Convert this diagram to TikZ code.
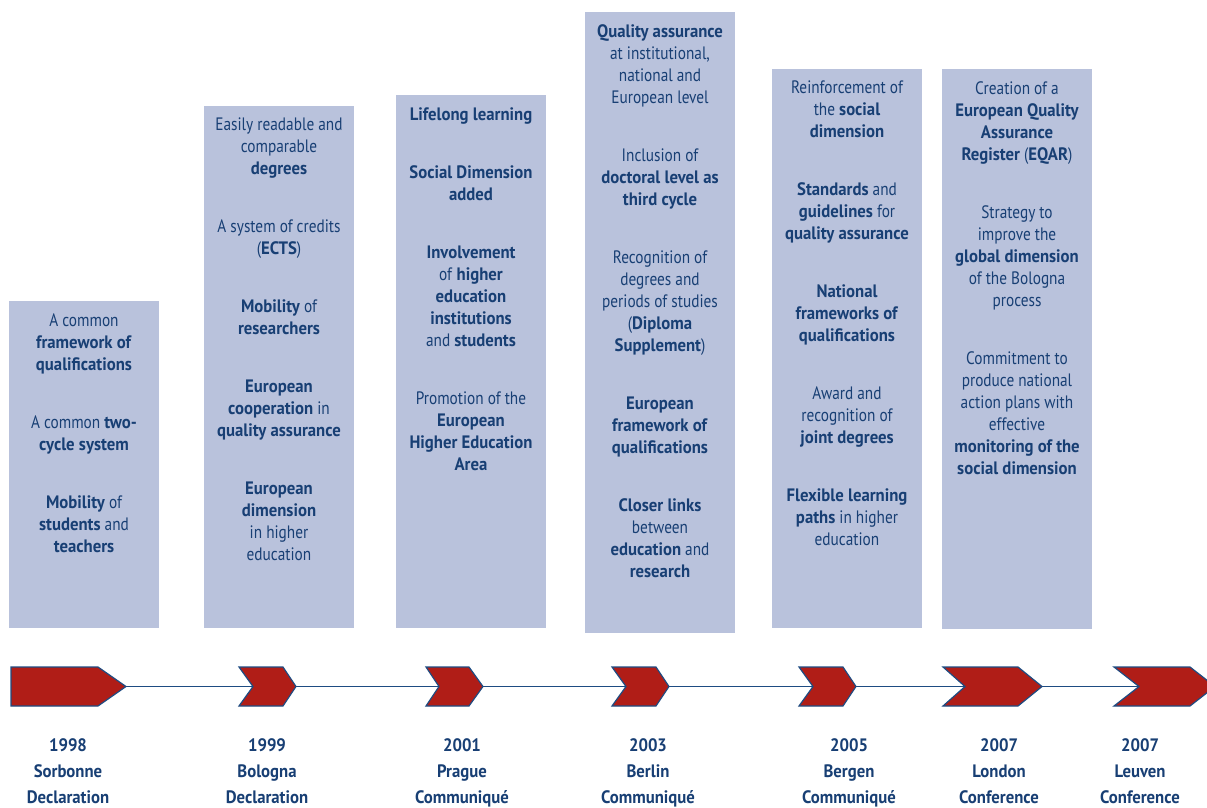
\documentclass[tikz,border=0pt]{standalone}
\usepackage{fontspec}
\setmainfont{PT Sans}[FakeStretch=0.85,BoldFeatures={FakeStretch=0.93}]
\usetikzlibrary{positioning}
\definecolor{boxblue}{RGB}{185,194,220}
\definecolor{textblue}{RGB}{24,63,116}
\definecolor{chevronred}{RGB}{176,29,23}
\definecolor{edgeblue}{RGB}{30,76,130}

\begin{document}
\begin{tikzpicture}[x=1pt,y=-1pt,
    goal/.style={anchor=north,inner sep=0pt,align=center,text=textblue,font=\fontsize{18}{22}\selectfont},
    event/.style={anchor=north,inner sep=0pt,align=center,text=textblue,font=\bfseries\fontsize{18}{26}\selectfont},
    chevron/.style={fill=chevronred,draw=edgeblue,line width=1.2pt,line join=miter}]
  \useasboundingbox (0,0) rectangle (1207,807);
  \clip (0,0) rectangle (1207,807);

  % columns
  \foreach \x/\t/\b in {9/301/628, 204/106/628, 396/95/628, 585/12/633, 772/69/628, 942/69/629}
    \fill[boxblue] (\x,\t) rectangle (\x+150,\b);

  \node[goal] (g1998) at (84,313) {A common\\ \textbf{framework of}\\ \textbf{qualifications}\\[36pt]
    A common \textbf{two-}\\ \textbf{cycle system}\\[36pt]
    \textbf{Mobility} of\\ \textbf{students} and\\ \textbf{teachers}};
  \node[goal] (g1999) at (279,118) {Easily readable and\\ comparable\\ \textbf{degrees}\\[36pt]
    A system of credits\\ (\textbf{ECTS})\\[36pt]
    \textbf{Mobility} of\\ \textbf{researchers}\\[36pt]
    \textbf{European}\\ \textbf{cooperation} in\\ \textbf{quality assurance}\\[36pt]
    \textbf{European}\\ \textbf{dimension}\\ in higher\\ education};
  \node[goal] (g2001) at (471,107) {\textbf{Lifelong learning}\\[36pt]
    \textbf{Social Dimension}\\ \textbf{added}\\[36pt]
    \textbf{Involvement}\\ of \textbf{higher}\\ \textbf{education}\\ \textbf{institutions}\\ and \textbf{students}\\[36pt]
    Promotion of the\\ \textbf{European}\\ \textbf{Higher Education}\\ \textbf{Area}};
  \node[goal] (g2003) at (660,24) {\textbf{Quality assurance}\\ at institutional,\\ national and\\ European level\\[36pt]
    Inclusion of\\ \textbf{doctoral level as}\\ \textbf{third cycle}\\[36pt]
    Recognition of\\ degrees and\\ periods of studies\\ (\textbf{Diploma}\\ \textbf{Supplement})\\[36pt]
    \textbf{European}\\ \textbf{framework of}\\ \textbf{qualifications}\\[36pt]
    \textbf{Closer links}\\ between\\ \textbf{education} and\\ \textbf{research}};
  \node[goal] (g2005) at (847,81) {Reinforcement of\\ the \textbf{social}\\ \textbf{dimension}\\[36pt]
    \textbf{Standards} and\\ \textbf{guidelines} for\\ \textbf{quality assurance}\\[36pt]
    \textbf{National}\\ \textbf{frameworks of}\\ \textbf{qualifications}\\[36pt]
    Award and\\ recognition of\\ \textbf{joint degrees}\\[36pt]
    \textbf{Flexible learning}\\ \textbf{paths} in higher\\ education};
  \node[goal] (g2007) at (1017,81) {Creation of a\\ \textbf{European Quality}\\ \textbf{Assurance}\\ \textbf{Register} (\textbf{EQAR})\\[36pt]
    Strategy to\\ improve the\\ \textbf{global dimension}\\ of the Bologna\\ process\\[36pt]
    Commitment to\\ produce national\\ action plans with\\ effective\\ \textbf{monitoring of the}\\ \textbf{social dimension}};

  % time line
  \draw[chevron] (11,667) -- (98,667) -- (126,686.5) -- (98,706) -- (11,706) -- cycle;
  \coordinate (tip1) at (126,686.5);
  \foreach \i/\l/\n/\r/\t in {2/239/253/283/296, 3/426/439/469/483, 4/612/626/656/669,
      5/799/813/843/856, 6/943/965/1018/1042, 7/1114/1139/1190/1215} {
    \draw[chevron] (\l,667) -- (\r,667) -- (\t,686.5) -- (\r,706) -- (\l,706) -- (\n,686.5) -- cycle;
    \coordinate (notch\i) at (\n,686.5);
    \coordinate (tip\i) at (\t,686.5);
  }
  \foreach \i/\j in {1/2, 2/3, 3/4, 4/5, 5/6, 6/7}
    \draw[edgeblue,line width=1.6pt] (tip\i) -- (notch\j);

  \node[event] (e1998) at (68,738) {1998\\ Sorbonne\\ Declaration};
  \node[event] (e1999) at (267,738) {1999\\ Bologna\\ Declaration};
  \node[event] (e2001) at (462,738) {2001\\ Prague\\ Communiqué};
  \node[event] (e2003) at (648,738) {2003\\ Berlin\\ Communiqué};
  \node[event] (e2005) at (849,738) {2005\\ Bergen\\ Communiqué};
  \node[event] (e2007a) at (999,738) {2007\\ London\\ Conference};
  \node[event] (e2007b) at (1140,738) {2007\\ Leuven\\ Conference};
\end{tikzpicture}
\end{document}
